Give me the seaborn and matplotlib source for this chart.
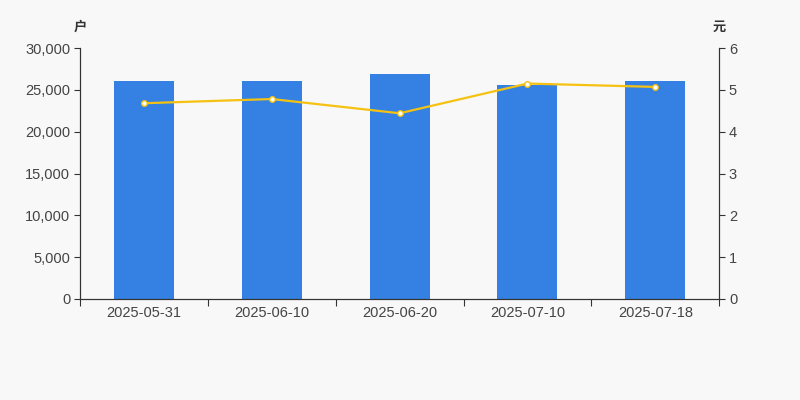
import matplotlib
matplotlib.use("Agg")
import matplotlib.pyplot as plt
import seaborn as sns
import pandas as pd
import numpy as np

# 数据
datas = ["2025-05-31", "2025-06-10", "2025-06-20", "2025-07-10", "2025-07-18"]
holders = [26050, 26100, 26900, 25600, 26000]
avg_price = [4.68, 4.78, 4.44, 5.15, 5.07]

df = pd.DataFrame({"data": datas, "holders": holders, "price": avg_price})

sns.set_theme(style="white")
plt.rcParams["font.family"] = ["Liberation Sans", "Noto Sans CJK SC", "DejaVu Sans"]
plt.rcParams["axes.unicode_minus"] = False

bg = "#f8f8f8"
txt = "#333333"
lab = "#444444"
fig = plt.figure(figsize=(8, 4), dpi=100, facecolor=bg)
ax = fig.add_axes([0.1, 0.2525, 0.799, 0.6275])
ax.set_facecolor(bg)

sns.barplot(data=df, x="data", y="holders", color="#3481e3", width=0.47,
            saturation=1, linewidth=0, ax=ax)
ax.set_ylim(0, 30000)
ax.set_xlim(-0.5, len(datas) - 0.5)
ax.set_yticks(np.arange(0, 30001, 5000))
ax.set_yticklabels([f"{v:,}" for v in range(0, 30001, 5000)])
ax.set_xlabel("")
ax.set_ylabel("")

# eixo x: ticks nas divisões entre categorias
ax.set_xticks(np.arange(len(datas)))
ax.set_xticklabels(datas)
ax.tick_params(axis="x", bottom=True, length=0, pad=5, labelsize=10.5, labelcolor=lab)
ax.set_xticks(np.arange(-0.5, len(datas)), minor=True)
ax.tick_params(axis="x", which="minor", bottom=True, length=5, width=0.8,
               color=txt, direction="out")
ax.tick_params(axis="y", left=True, length=4, width=0.8, color=txt, direction="out",
               labelsize=10.5, labelcolor=lab, pad=3)

ax2 = ax.twinx()
sns.lineplot(data=df, x="data", y="price", color="#f5c211", linewidth=1.6,
             marker="o", markersize=4, markerfacecolor="white",
             markeredgecolor="#f5c211", markeredgewidth=1, ax=ax2)
ax2.set_ylim(0, 6)
ax2.set_yticks(range(0, 7))
ax2.set_ylabel("")
ax2.set_xlabel("")
ax2.tick_params(axis="y", right=True, length=4, width=0.8, color=txt, direction="out",
                labelsize=10.5, labelcolor=lab, pad=3)

for a in (ax, ax2):
    a.spines["top"].set_visible(False)
    for s in ["left", "right", "bottom"]:
        a.spines[s].set_color(txt)
        a.spines[s].set_linewidth(0.8)
    a.grid(False)

fig.text(0.1, 0.932, "户", ha="center", va="center", fontsize=9.5, color=txt,
         fontweight="bold", family=["Noto Sans CJK SC"])
fig.text(0.899, 0.932, "元", ha="center", va="center", fontsize=9.5, color=txt,
         fontweight="bold", family=["Noto Sans CJK SC"])

fig.savefig("out.png", dpi=100, facecolor=bg)
